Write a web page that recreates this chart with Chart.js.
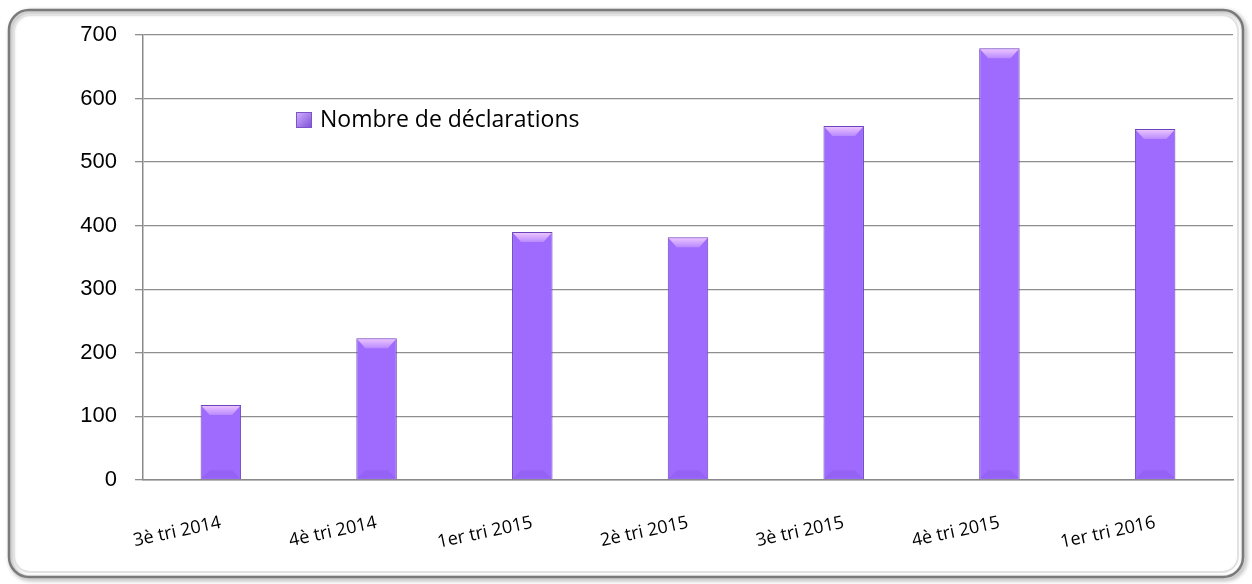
<!DOCTYPE html>
<html>
<head>
<meta charset="utf-8">
<script src="https://cdn.jsdelivr.net/npm/chart.js"></script>
<style>
  html, body { margin: 0; padding: 0; background: #fff; }
  #wrap { width: 1252px; height: 584px; }
</style>
</head>
<body>
<div id="wrap"><canvas id="declarationsChart" width="1252" height="584"></canvas></div>
<script>
// ==============================
// Données
// ==============================
var trimestres = ["3è tri 2014", "4è tri 2014", "1er tri 2015", "2è tri 2015", "3è tri 2015", "4è tri 2015", "1er tri 2016"];
var nbDeclarations = [118, 223, 390, 382, 557, 679, 552];
var serieLabel = "Nombre de déclarations";

// cadre arrondi autour du graphique
var cadrePlugin = {
    id: "cadre",
    beforeDraw: function(chart) {
        var ctx = chart.ctx;
        ctx.save();
        ctx.fillStyle = "#fff";
        ctx.fillRect(0, 0, chart.width, chart.height);
        ctx.shadowColor = "rgba(0,0,0,0.45)";
        ctx.shadowBlur = 4;
        ctx.shadowOffsetX = 2;
        ctx.shadowOffsetY = 2;
        ctx.strokeStyle = "#7a7a7a";
        ctx.lineWidth = 2.5;
        ctx.beginPath();
        ctx.roundRect(9, 10, chart.width - 18, chart.height - 17, 20);
        ctx.stroke();
        ctx.restore();
        ctx.save();
        ctx.strokeStyle = "#e2e2e2";
        ctx.lineWidth = 2;
        ctx.beginPath();
        ctx.roundRect(14, 15, chart.width - 28, chart.height - 27, 16);
        ctx.stroke();
        ctx.restore();
    }
};

// biseau sur le haut des barres + légende
var biseauPlugin = {
    id: "biseau",
    afterDatasetsDraw: function(chart) {
        var ctx = chart.ctx;
        chart.getDatasetMeta(0).data.forEach(function(bar) {
            var l = bar.x - bar.width / 2, r = bar.x + bar.width / 2, t = bar.y, b = bar.base;
            var g = ctx.createLinearGradient(0, t, 0, t + 10);
            g.addColorStop(0, "#f0c8ff");
            g.addColorStop(1, "#b88aff");
            ctx.save();
            ctx.fillStyle = g;
            ctx.beginPath();
            ctx.moveTo(l + 1, t + 1);
            ctx.lineTo(r - 1, t + 1);
            ctx.lineTo(r - 9, t + 10);
            ctx.lineTo(l + 9, t + 10);
            ctx.closePath();
            ctx.fill();
            ctx.fillStyle = "rgba(120,70,220,0.25)";
            ctx.beginPath();
            ctx.moveTo(l + 1, b - 1);
            ctx.lineTo(r - 1, b - 1);
            ctx.lineTo(r - 9, b - 9);
            ctx.lineTo(l + 9, b - 9);
            ctx.closePath();
            ctx.fill();
            ctx.restore();
        });

        // légende
        ctx.save();
        var lx = 296, ly = 112;
        var lg = ctx.createLinearGradient(lx, ly, lx + 16, ly + 16);
        lg.addColorStop(0, "#d8b0ff");
        lg.addColorStop(1, "#7a4fd8");
        ctx.fillStyle = lg;
        ctx.fillRect(lx, ly, 16, 16);
        ctx.strokeStyle = "#7a55c8";
        ctx.lineWidth = 1;
        ctx.strokeRect(lx + 0.5, ly + 0.5, 15, 15);
        ctx.fillStyle = "#000";
        ctx.font = "23px 'Open Sans'";
        ctx.textBaseline = "middle";
        ctx.fillText(chart.data.datasets[0].label, lx + 24, ly + 8);
        ctx.restore();
    }
};

var ctxDecl = document.getElementById("declarationsChart").getContext("2d");
var declarationsChart = new Chart(ctxDecl, {
    type: "bar",
    data: {
        labels: trimestres,
        datasets: [{
            label: serieLabel,
            data: nbDeclarations,
            backgroundColor: function(c) {
                var el = c.element;
                if (!c.chart.chartArea || !el || !el.width) return "#9f6bff";
                var l = el.x - el.width / 2;
                var g = c.chart.ctx.createLinearGradient(l, 0, l + el.width, 0);
                g.addColorStop(0, "#8c58f0");
                g.addColorStop(0.2, "#a06cff");
                g.addColorStop(0.8, "#a06cff");
                g.addColorStop(1, "#8452e8");
                return g;
            },
            borderColor: "#6a44b8",
            borderWidth: 1,
            categoryPercentage: 1,
            barPercentage: 0.26
        }]
    },
    options: {
        responsive: false,
        animation: false,
        layout: { padding: { left: 0, top: 35, right: 19, bottom: 0 } },
        plugins: {
            legend: { display: false },
            tooltip: { enabled: false }
        },
        scales: {
            x: {
                grid: { display: false },
                border: { display: true, color: "#8a8a8a", width: 1.5 },
                ticks: {
                    color: "#000",
                    font: { family: "'Open Sans'", size: 18 },
                    minRotation: 12,
                    maxRotation: 12,
                    padding: 24
                },
                afterFit: function(s) { s.height = 104; }
            },
            y: {
                min: 0,
                max: 700,
                ticks: {
                    stepSize: 100,
                    color: "#000",
                    font: { family: "'Liberation Sans'", size: 22 },
                    padding: 18
                },
                grid: { color: "#8e8e8e", lineWidth: 1.3, tickLength: 8 },
                border: { display: true, color: "#8a8a8a", width: 1.5 },
                afterFit: function(s) { s.width = 143; }
            }
        }
    },
    plugins: [cadrePlugin, biseauPlugin]
});
</script>
</body>
</html>
